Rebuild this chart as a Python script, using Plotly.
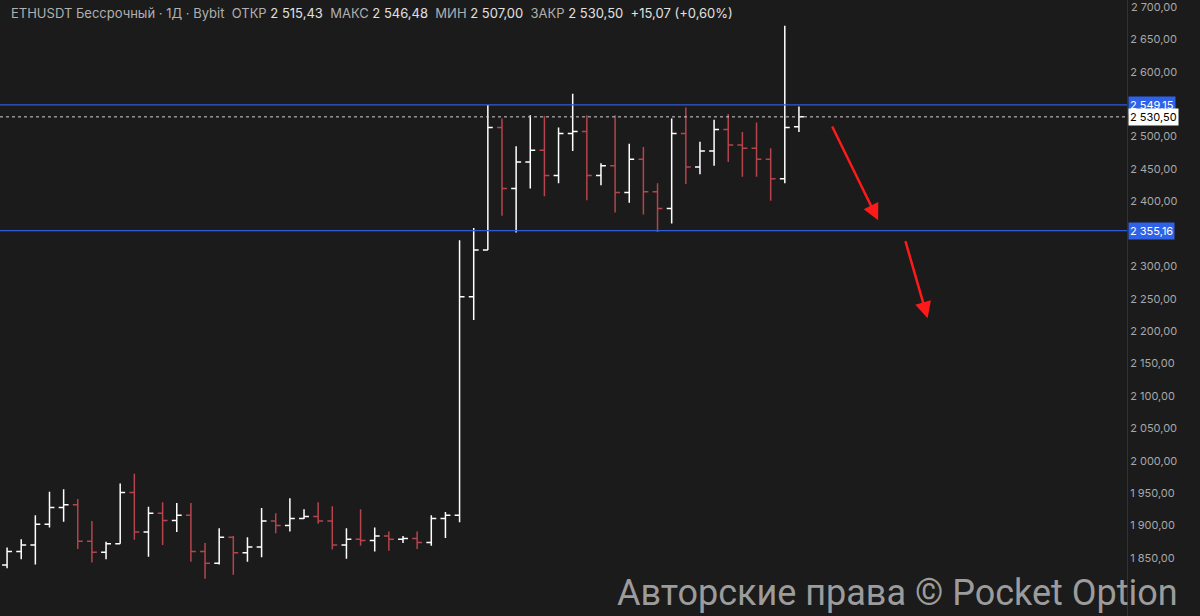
import plotly.graph_objects as go

opens  = [1839,1860,1870,1902,1928,1932,1876,1859,1872,1951,1890,1919,1908,1916,1860,1842,1882,1858,1867,1907,1900,1911,1914,1907,1870,1879,1877,1884,1879,1880,1874,1911,1916,2253,2325,2514,2420,2461,2479,2440,2505,2508,2440,2455,2414,2465,2415,2389,2505,2453,2478,2511,2487,2482,2465,2435,2515.43]
highs  = [1866,1879,1916,1952,1956,1941,1907,1875,1965,1980,1929,1936,1935,1935,1873,1896,1884,1882,1927,1919,1942,1925,1936,1930,1896,1925,1897,1891,1884,1891,1916,1921,2340,2359,2549,2528,2485,2533,2532,2514,2566,2533,2459,2533,2489,2484,2428,2528,2545,2492,2526,2535,2507,2522,2482,2671,2546.48]
lows   = [1834,1848,1840,1897,1906,1864,1843,1848,1872,1878,1852,1870,1890,1844,1818,1840,1824,1844,1851,1888,1891,1910,1903,1863,1849,1869,1860,1861,1873,1864,1869,1881,1905,2217,2325,2378,2352,2420,2408,2428,2478,2402,2425,2383,2398,2380,2353,2366,2427,2442,2455,2461,2438,2438,2401,2428,2507.00]
closes = [1860,1870,1902,1928,1932,1876,1859,1872,1951,1890,1919,1908,1916,1860,1842,1882,1858,1867,1907,1900,1911,1914,1907,1870,1879,1877,1884,1879,1880,1874,1911,1916,2253,2325,2514,2420,2461,2479,2440,2505,2508,2440,2455,2414,2465,2415,2389,2505,2453,2478,2511,2487,2482,2465,2435,2514,2530.50]
idx = list(range(len(opens)))

levels = [2549.15, 2355.16]
last_close = 2530.50
tick_vals = [1850,1900,1950,2000,2050,2100,2150,2200,2250,2300,2400,2450,2500,2600,2650]
top_tick = 2700
fmt = lambda v: f"{v:,}".replace(",", " ") + ",00"
tick_text = [fmt(v) for v in tick_vals]
arrows = [((58.3, 2518), (61.6, 2371)), ((63.5, 2341), (65.1, 2220))]

BG = "#1b1b1b"
TICKFONT = dict(color="#a8a8a8", size=11, family="Inter")
fig = go.Figure()
fig.add_trace(go.Ohlc(x=idx, open=opens, high=highs, low=lows, close=closes,
                      increasing=dict(line=dict(color="#ffffff", width=1.5)),
                      decreasing=dict(line=dict(color="#b5444c", width=1.5)),
                      tickwidth=0.35, hoverinfo="skip", showlegend=False))
for lv in levels:
    fig.add_hline(y=lv, line=dict(color="#2f5bd8", width=1.3))
    fig.add_annotation(x=1, xref="paper", xanchor="left", y=lv, text=f"{lv:,.2f}".replace(",", " ").replace(".", ","),
                       showarrow=False, bgcolor="#2f62e8", font=dict(color="white", size=11, family="Inter"),
                       borderpad=1, xshift=1)
fig.add_hline(y=last_close, line=dict(color="#d0d0d0", width=1, dash="dot"))
fig.add_annotation(x=1, xref="paper", xanchor="left", y=last_close, text="2 530,50", showarrow=False,
                   bgcolor="#ffffff", font=dict(color="black", size=11, family="Inter"), borderpad=1, xshift=1)
fig.add_annotation(x=1, xref="paper", xanchor="left", y=top_tick, text=fmt(top_tick), showarrow=False,
                   font=TICKFONT, xshift=2)
for (x0, y0), (x1, y1) in arrows:
    fig.add_annotation(x=x1, y=y1, ax=x0, ay=y0, xref="x", yref="y", axref="x", ayref="y", text="",
                       showarrow=True, arrowhead=2, arrowsize=1.3, arrowwidth=2.5, arrowcolor="#ff1a1a")
fig.add_annotation(x=0.008, y=0.995, xref="paper", yref="paper", xanchor="left", yanchor="top", showarrow=False,
                   text="ETHUSDT Бессрочный · 1Д · Bybit  ОТКР <span style='color:#e0e0e0'>2 515,43</span>  МАКС <span style='color:#e0e0e0'>2 546,48</span>  МИН <span style='color:#e0e0e0'>2 507,00</span>  ЗАКР <span style='color:#e0e0e0'>2 530,50</span>  <span style='color:#e0e0e0'>+15,07 (+0,60%)</span>",
                   font=dict(color="#b0b0b0", size=13, family="Inter"))
fig.add_annotation(x=1.047, y=0.0, xref="paper", yref="paper", xanchor="right", yanchor="bottom", showarrow=False,
                   text="Авторские права © Pocket Option", font=dict(color="rgba(200,200,200,0.75)", size=36, family="Roboto"))

fig.update_layout(width=1200, height=616, paper_bgcolor=BG, plot_bgcolor=BG,
                  margin=dict(l=0, r=73, t=0, b=0, pad=0, autoexpand=False),
                  xaxis=dict(range=[-0.5, 79.2], showgrid=False, zeroline=False, showticklabels=False, rangeslider=dict(visible=False)),
                  yaxis=dict(range=[1760.5, 2710.8], side="right", showgrid=False, zeroline=False,
                             tickvals=tick_vals, ticktext=tick_text, ticks="", tickfont=TICKFONT,
                             showline=True, linecolor="#333333"))
fig.write_html("out.html", config={"displayModeBar": False},
               post_script="document.body.style.margin='0';document.body.style.background='#1b1b1b';")
